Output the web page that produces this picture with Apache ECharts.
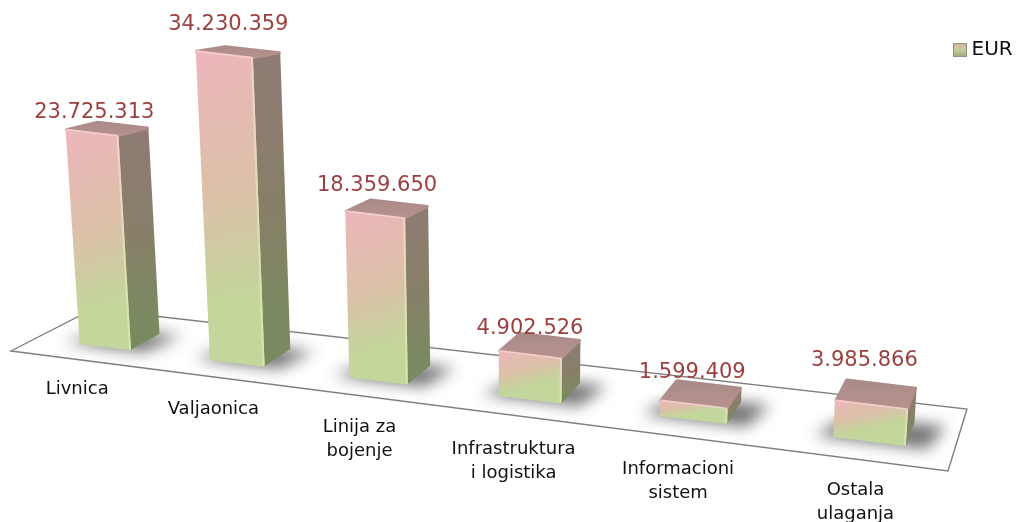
<!DOCTYPE html>
<html>
<head>
<meta charset="utf-8">
<script src="https://cdn.jsdelivr.net/npm/echarts@6/dist/echarts.min.js"></script>
<style>
html, body { margin: 0; padding: 0; background: #fff; }
#chart { width: 1017px; height: 522px; }
</style>
</head>
<body>
<div id="chart"></div>
<script>
var categories = ['Livnica', 'Valjaonica', 'Linija za\nbojenje', 'Infrastruktura\ni logistika', 'Informacioni\nsistem', 'Ostala\nulaganja'];
var eur = [23725313, 34230359, 18359650, 4902526, 1599409, 3985866];

// hand placement of the labels, the original does not place them evenly
var valueLabelShift = [[-5, 8], [-2, -4], [-2, 1], [-2, 7], [-1, 2], [-4, -10]];
var nameLabelShift = [[0, 0], [1, 2], [2, 1], [0, 3], [-4, 1], [-9, -1]];

// floor of the 3d chart on screen: front left, front right, back right, back left
var floor = [[11, 351], [948, 471], [967, 409], [93, 309]];
var gridLeft = 18, gridWidth = 930;
var floorLeft = 11;

// unit square -> floor quad
function makeHomography(q) {
    var dx1 = q[1][0] - q[2][0], dx2 = q[3][0] - q[2][0], sx = q[0][0] - q[1][0] + q[2][0] - q[3][0];
    var dy1 = q[1][1] - q[2][1], dy2 = q[3][1] - q[2][1], sy = q[0][1] - q[1][1] + q[2][1] - q[3][1];
    var det = dx1 * dy2 - dx2 * dy1;
    var g = (sx * dy2 - dx2 * sy) / det;
    var h = (dx1 * sy - sx * dy1) / det;
    var a = q[1][0] - q[0][0] + g * q[1][0], b = q[3][0] - q[0][0] + h * q[3][0];
    var d = q[1][1] - q[0][1] + g * q[1][1], e = q[3][1] - q[0][1] + h * q[3][1];
    return function (u, v) {
        var w = g * u + h * v + 1;
        return [(a * u + b * v + q[0][0]) / w, (d * u + e * v + q[0][1]) / w];
    };
}
var project = makeHomography(floor);

function dotted(n) {
    return String(n).replace(/\B(?=(\d{3})+$)/g, '.');
}

var sideFill = new echarts.graphic.LinearGradient(0, 0, 0, 1, [
    { offset: 0, color: '#8f7b74' },
    { offset: 0.5, color: '#877f68' },
    { offset: 0.85, color: '#7a8a60' },
    { offset: 1, color: '#7a8a60' }
]);
var topFill = new echarts.graphic.LinearGradient(0, 0, 0, 1, [
    { offset: 0, color: '#a98a88' },
    { offset: 1, color: '#b8928f' }
]);
var edgeFill = new echarts.graphic.LinearGradient(0, 0, 0, 1, [
    { offset: 0, color: '#f0d4c4' },
    { offset: 1, color: '#d4e6a8' }
]);

function frontFill(w, h) {
    return new echarts.graphic.LinearGradient(0, 0, Math.min(1, 0.3 * h / w), 1, [
        { offset: 0, color: '#edb6bb' },
        { offset: 0.45, color: '#dcc0a8' },
        { offset: 0.78, color: '#c3d69b' },
        { offset: 1, color: '#c3d69b' }
    ]);
}

function poly(points, fill, width) {
    return {
        type: 'polygon',
        shape: { points: points },
        style: { fill: fill, stroke: fill, lineWidth: width || 1, lineJoin: 'round' }
    };
}

function renderBar(params, api) {
    var i = api.value(0);
    var val = api.value(1);
    var base = api.coord([i, 0]);
    var band = api.size([1, 0])[0];
    var h = base[1] - api.coord([i, val])[1];

    var uc = (base[0] - floorLeft) / gridWidth;
    var half = band * 0.193 / gridWidth;
    var u0 = uc - half, u1 = uc + half;
    var v0 = 0.3, v1 = 0.67;

    var fl = project(u0, v0), fr = project(u1, v0), br = project(u1, v1), bl = project(u0, v1);

    // verticals spread out going up, back edges look a bit shorter
    function lift(p, k) {
        var lean = (p[0] - 510) / 6500;
        return [p[0] + lean * h * k, p[1] - h * k];
    }
    var tfl = lift(fl, 1), tfr = lift(fr, 1), tbr = lift(br, 0.96), tbl = lift(bl, 0.96);

    var cx = (tfl[0] + tfr[0] + tbr[0] + tbl[0]) / 4;
    var cy = (tfl[1] + tfr[1] + tbr[1] + tbl[1]) / 4;
    var labelPos = project(uc, -0.12);

    return {
        type: 'group',
        children: [
            {
                // only the blurred shadow lands on the floor, the shape itself is off screen
                type: 'polygon',
                x: -3000,
                shape: { points: [project(u0 - 0.018, v0 - 0.02), project(u1 + 0.02, v0 - 0.02), project(u1 + 0.03, v1), project(u0 + 0.005, v1 - 0.02)] },
                style: { fill: '#555', shadowBlur: 15, shadowOffsetX: 3000, shadowColor: 'rgba(60,60,60,0.72)' }
            },
            poly([fr, br, tbr, tfr], sideFill, 2),
            poly([tfl, tfr, tbr, tbl], topFill, 3),
            poly([fl, fr, tfr, tfl], frontFill(fr[0] - fl[0], h), 2),
            { type: 'polyline', shape: { points: [tfl, tfr] }, style: { fill: null, stroke: '#f2cfca', lineWidth: 1.5 } },
            { type: 'polyline', shape: { points: [tfr, fr] }, style: { fill: null, stroke: edgeFill, lineWidth: 2 } },
            {
                type: 'text',
                style: {
                    x: cx - 8 + valueLabelShift[i][0], y: cy - 24 + valueLabelShift[i][1],
                    text: dotted(val),
                    fill: '#9c3f3f',
                    font: '21px "DejaVu Sans"',
                    align: 'center', verticalAlign: 'middle'
                }
            },
            {
                type: 'text',
                style: {
                    x: labelPos[0] + 7 + nameLabelShift[i][0], y: labelPos[1] + 12 + nameLabelShift[i][1],
                    text: categories[i],
                    fill: '#111',
                    font: '18px "DejaVu Sans"',
                    lineHeight: 24,
                    align: 'center', verticalAlign: 'top'
                }
            }
        ]
    };
}

var chart = echarts.init(document.getElementById('chart'));
chart.setOption({
    animation: false,
    legend: {
        left: 948, top: 35,
        itemWidth: 13, itemHeight: 13,
        textStyle: { fontFamily: 'DejaVu Sans', fontSize: 20, color: '#111' },
        data: [{
            name: 'EUR',
            icon: 'rect',
            itemStyle: {
                color: new echarts.graphic.LinearGradient(0, 0, 0, 1, [
                    { offset: 0, color: '#d9b0a8' },
                    { offset: 0.5, color: '#c3cf9b' },
                    { offset: 1, color: '#9aa87a' }
                ]),
                borderColor: '#8d9477', borderWidth: 1
            }
        }]
    },
    grid: { left: gridLeft, width: gridWidth, top: 0, height: 360 },
    xAxis: { type: 'category', data: categories, show: false },
    yAxis: { type: 'value', min: 0, max: 40000000, show: false },
    graphic: [{
        type: 'polygon',
        silent: true,
        shape: { points: floor },
        style: { fill: '#fff', stroke: '#7f7f7f', lineWidth: 1.4 }
    }],
    series: [{
        name: 'EUR',
        type: 'custom',
        renderItem: renderBar,
        encode: { x: 0, y: 1 },
        data: categories.map(function (c, i) { return [c, eur[i]]; })
    }]
});
</script>
</body>
</html>
